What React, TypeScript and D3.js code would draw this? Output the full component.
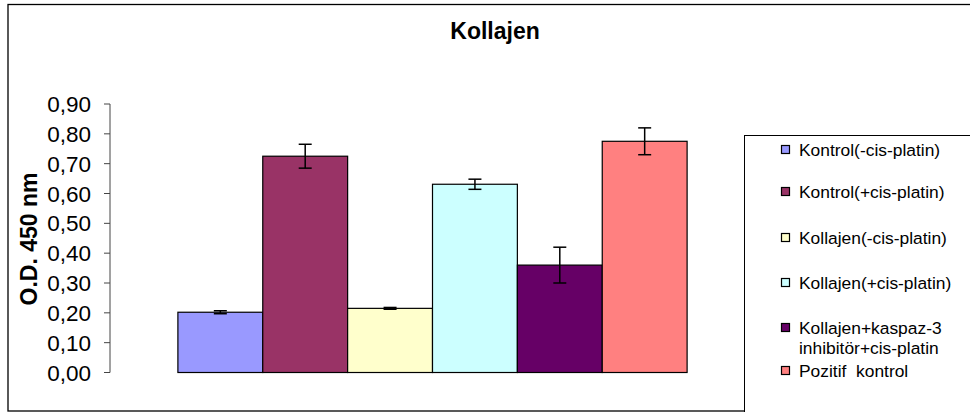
import * as d3 from 'd3'

const categories = [
  'Kontrol(-cis-platin)',
  'Kontrol(+cis-platin)',
  'Kollajen(-cis-platin)',
  'Kollajen(+cis-platin)',
  'Kollajen+kaspaz-3 inhibitör+cis-platin',
  'Pozitif  kontrol'
]
const legendLines = [
  ['Kontrol(-cis-platin)'],
  ['Kontrol(+cis-platin)'],
  ['Kollajen(-cis-platin)'],
  ['Kollajen(+cis-platin)'],
  ['Kollajen+kaspaz-3', 'inhibitör+cis-platin'],
  ['Pozitif  kontrol']
]
const values = [0.202, 0.725, 0.215, 0.631, 0.36, 0.775]
const errors = [0.005, 0.04, 0.003, 0.017, 0.06, 0.045]
const colors = ['#9999FF', '#993366', '#FFFFCC', '#CCFFFF', '#660066', '#FF8080']
const yTicks = [0, 0.1, 0.2, 0.3, 0.4, 0.5, 0.6, 0.7, 0.8, 0.9]

const width = 970
const height = 412
const font = '"Liberation Sans", Arial, sans-serif'

export default function App() {
  const plot = { left: 110, right: 755, top: 104, bottom: 372.5 }

  const x = d3
    .scaleBand<string>()
    .domain(categories)
    .range([plot.left, plot.right])
    .paddingInner(0)
    .paddingOuter(0.8)

  const y = d3.scaleLinear().domain([0, 0.9]).range([plot.bottom, plot.top])
  const fmt = (v: number) => d3.format('.2f')(v).replace('.', ',')

  // legend rows (first line baseline of each entry)
  const legendY = [156, 198, 244, 289, 334, 377]

  return (
    <div style={{ position: 'absolute', left: 0, top: 0 }}>
      <svg width={width} height={height} style={{ display: 'block' }}>
        <rect x={0} y={0} width={width} height={height} fill="#fff" />
        <rect x={8} y={4.5} width={1000} height={406.5} fill="none" stroke="#000" strokeWidth={1.3} />

        <text x={495} y={39} textAnchor="middle" fontFamily={font} fontSize={23} fontWeight="bold">
          Kollajen
        </text>

        <text
          transform={`translate(37,239) rotate(-90)`}
          textAnchor="middle"
          fontFamily={font}
          fontSize={23}
          fontWeight="bold"
        >
          O.D. 450 nm
        </text>

        {/* y axis */}
        <line x1={plot.left} x2={plot.left} y1={y(0.9)} y2={y(0)} stroke="#444" strokeWidth={1} />
        {yTicks.map(t => (
          <g key={t}>
            <line x1={plot.left - 6} x2={plot.left} y1={y(t)} y2={y(t)} stroke="#444" strokeWidth={1} />
            <text
              x={91}
              y={y(t)}
              dy="0.36em"
              textAnchor="end"
              fontFamily={font}
              fontSize={22.5}
            >
              {fmt(t)}
            </text>
          </g>
        ))}

        {/* bars */}
        {categories.map((c, i) => (
          <rect
            key={c}
            x={x(c)}
            y={y(values[i])}
            width={x.bandwidth()}
            height={y(0) - y(values[i])}
            fill={colors[i]}
            stroke="#000"
            strokeWidth={1.2}
          />
        ))}

        {/* error bars */}
        {categories.map((c, i) => {
          const cx = (x(c) ?? 0) + x.bandwidth() / 2
          const hi = y(values[i] + errors[i])
          const lo = y(values[i] - errors[i])
          return (
            <g key={c} stroke="#000" strokeWidth={1.5}>
              <line x1={cx} x2={cx} y1={hi} y2={lo} />
              <line x1={cx - 6.5} x2={cx + 6.5} y1={hi} y2={hi} />
              <line x1={cx - 6.5} x2={cx + 6.5} y1={lo} y2={lo} />
            </g>
          )
        })}

        {/* legend */}
        <rect x={744.5} y={135.5} width={300} height={300} fill="#fff" stroke="#000" strokeWidth={1} />
        {legendLines.map((lines, i) => (
          <g key={i}>
            <rect
              x={781.5}
              y={legendY[i] - 10.5}
              width={8}
              height={8}
              fill={colors[i]}
              stroke="#000"
              strokeWidth={1.2}
            />
            <text x={799} y={legendY[i]} fontFamily={font} fontSize={17.4} style={{ whiteSpace: 'pre' }}>
              {lines.map((l, j) => (
                <tspan key={j} x={799} dy={j === 0 ? 0 : 20}>
                  {l}
                </tspan>
              ))}
            </text>
          </g>
        ))}
      </svg>
    </div>
  )
}
